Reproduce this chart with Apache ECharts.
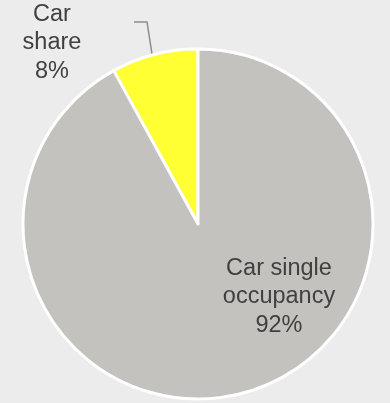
<!DOCTYPE html>
<html>
<head>
<meta charset="utf-8">
<script src="https://cdn.jsdelivr.net/npm/echarts@6/dist/echarts.min.js"></script>
<style>
  html, body { margin: 0; padding: 0; background: #ececec; }
  #chart { width: 390px; height: 403px; }
</style>
</head>
<body>
<div id="chart"></div>
<script>
// Commute mode split for car trips
const categories = ['Car share', 'Car single occupancy'];
const shortLabels = ['Car\nshare', 'Car single\noccupancy'];
const values = [8, 92];
const colors = ['#ffff33', '#c4c2be'];
const labelPlacement = ['outside', 'inside'];

const chart = echarts.init(document.getElementById('chart'), null, { renderer: 'canvas' });

const data = categories.map((name, i) => ({
  name: name,
  value: values[i],
  itemStyle: { color: colors[i] },
  label: { position: labelPlacement[i] },
  labelLine: { show: labelPlacement[i] === 'outside' }
}));

chart.setOption({
  backgroundColor: '#ececec',
  animation: false,
  series: [{
    type: 'pie',
    center: [198, 224],
    radius: 175,
    startAngle: 90,
    clockwise: false,
    data: data,
    itemStyle: { borderColor: '#ffffff', borderWidth: 3 },
    label: {
      show: true,
      formatter: (p) => shortLabels[p.dataIndex] + '\n' + p.value + '%',
      fontFamily: 'Liberation Sans, Arial, sans-serif',
      fontSize: 23.5,
      lineHeight: 28.5,
      color: '#404040',
      align: 'center',
      overflow: 'none'
    },
    labelLine: {
      lineStyle: { color: '#8c8c8c', width: 1.5 }
    },
    labelLayout: function (params) {
      if (params.dataIndex === 0) {
        return {
          x: 52, y: 43, align: 'center', verticalAlign: 'middle',
          labelLinePoints: [[152, 54], [147, 22], [134, 22]]
        };
      }
      return { x: 279, y: 297, align: 'center', verticalAlign: 'middle' };
    }
  }]
});
</script>
</body>
</html>
